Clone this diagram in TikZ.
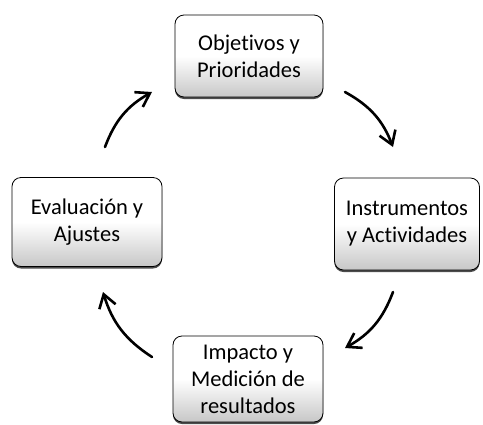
\documentclass[tikz,border=0pt]{standalone}
\usepackage{fontspec}
\setmainfont[Ligatures={NoCommon}]{Carlito}
\usepackage{tikz}
\usetikzlibrary{shapes.geometric, arrows.meta, shadows}
\tikzstyle{phase} = [rectangle, rounded corners=9pt, minimum width=148pt, minimum height=86pt, inner sep=2pt, text centered, align=center, draw=black, line width=0.8pt, top color=white, bottom color=black!22, middle color=white, drop shadow={shadow xshift=0pt, shadow yshift=-2pt, fill=black!70, opacity=1}, font=\fontsize{22.5}{27}\selectfont]
\tikzstyle{arrow} = [line width=2.6pt, -{Straight Barb[length=13pt,width=17pt]}, line cap=round]

\begin{document}
\begin{tikzpicture}[x=1pt, y=1pt]
  \useasboundingbox (0,0) rectangle (483,-424);
  \node(obj)[phase, minimum height=82pt] at (249,-56) {Objetivos y\\Prioridades};
  \node(inst)[phase, minimum width=145pt, minimum height=92pt] at (407,-224) {Instrumentos\\y Actividades};
  \node(imp)[phase, minimum width=150pt] at (248,-379) {Impacto y\\Medición de\\resultados};
  \node(eval)[phase, minimum width=150pt, minimum height=89pt] at (87,-222) {Evaluación y\\Ajustes};
  \coordinate(a1) at (105,-147);
  \coordinate(a2) at (152,-92);
  \coordinate(b1) at (345,-92);
  \coordinate(b2) at (393,-147);
  \coordinate(c1) at (393,-292);
  \coordinate(c2) at (345,-348);
  \coordinate(d1) at (152,-357);
  \coordinate(d2) at (103,-292);
  \draw[arrow] (a1) to[bend left=20] (a2);
  \draw[arrow] (b1) to[bend left=20] (b2);
  \draw[arrow] (c1) to[bend left=20] (c2);
  \draw[arrow] (d1) to[bend left=20] (d2);
\end{tikzpicture}
\end{document}
